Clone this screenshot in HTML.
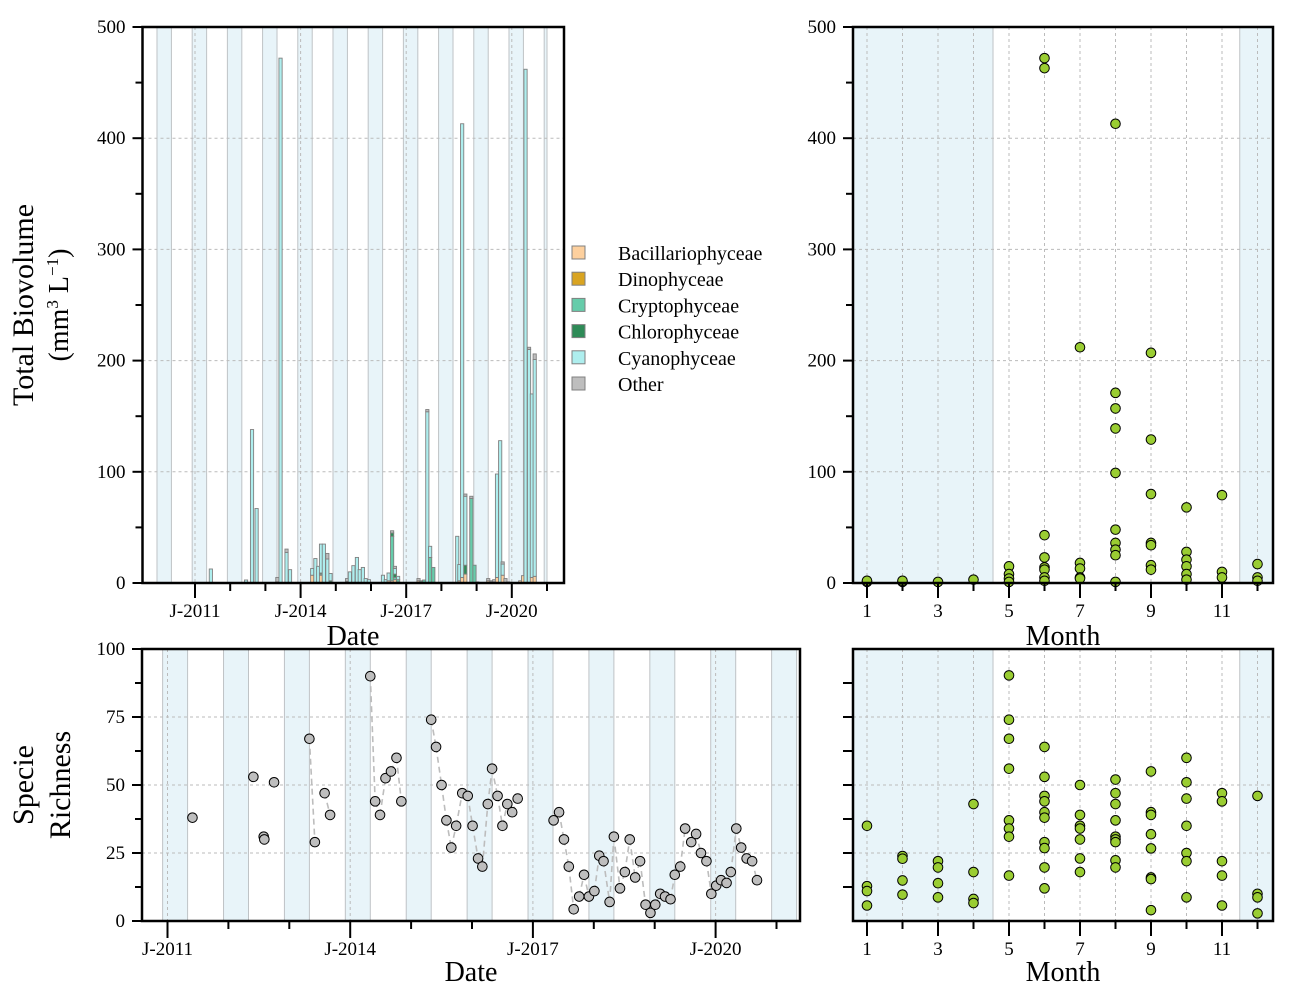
<!DOCTYPE html>
<html><head><meta charset="utf-8"><style>
html,body{margin:0;padding:0;background:#fff;}
svg{display:block;font-family:"Liberation Serif",serif;}
</style></head><body>
<svg id="chart" width="1300" height="1000" viewBox="0 0 1300 1000">
<g id="tl"></g>
<g id="tr"></g>
<g id="bl"></g>
<g id="br"></g>
<g id="legend"></g>
</svg>
<script>
const barDates=[2011.45,2012.45,2012.62,2012.75,2013.34,2013.43,2013.60,2013.70,2014.33,2014.42,2014.50,2014.58,2014.66,2014.76,2014.85,2015.32,2015.40,2015.50,2015.60,2015.68,2015.77,2015.85,2015.94,2016.10,2016.18,2016.26,2016.34,2016.42,2016.50,2016.60,2016.68,2016.77,2017.35,2017.43,2017.51,2017.60,2017.68,2017.77,2018.20,2018.28,2018.45,2018.51,2018.59,2018.68,2018.85,2018.94,2019.02,2019.33,2019.42,2019.50,2019.58,2019.67,2019.74,2019.82,2019.90,2020.24,2020.32,2020.39,2020.49,2020.57,2020.65];
const bacillario=[0,0,0,0,1,0,0,0,7,0,0,7,0,0,0,0,0,0,0,0,0,0,0,0,0,0,0,0,2,2,3,1,2,1,0,0,0,0,0,0,0,2,5,8,0,0,0,2,1,1,5,0,7,0,0,2,6.6,0,0,5,6];
const dinophy=[0,0,0,0,0,0,0,0,0,0,0,0,0,0,0,0,0,0,0,0,0,0,0,0,0,0,0,0,0,0,0,0,0,0,0,0,0,0,0,0,0,0,0,0,0,0,0,0,0,0,0,0,0,0,0,0,0,0,0,0,0];
const cryptophy=[0,0,0,0,0,0,0,0,0,0,0,1,0,0,0,0,0,0,0,0,0,0,0,0,0,0,0,0,0,40,2,2,0,1,2.7,0,23,14,0,0,0,0,0,0,76,16,0,0,0,0,0,0,0,0,0,0,0,0,0,0,0];
const chlorophy=[0,0,0,0,0,0,0,0,0,0,0,1,0,0,2,0,0,0,0,0,0,0,0,0,0,0,0,0,0,3,3,0,0,0,0,0,0,0,0,0,0,0,0,8,0,0,0,0,0,0,0,0,0,0,0,0,0,0,0,0,0];
const cyanophy=[12.6,2.7,138,67,0,472,27.5,12,6,22,15,26,35,21.6,6.6,1.5,10,15.6,23,12,14,4,3,0.5,0.5,0.5,7,3,7,0,5,3,0,0,0,154,10,0,0.5,0.5,42,14.6,408,62,0,0,1,0,0,0,93,128,10,0,1,0,0,462,210,165,195];
const otherCls=[0,0,0,0,4,0,3,0,0,0,0,0,0,5,0,2.5,0,0,0,0,0,0,0,0,0,0,0,0,0,2,2,0,2,0,0,2,0,0,0,0,0,0,0,2,2,0,0,2,1,2,0,0,2,4,0,0,0,0,2,0,5];
const classNames=["Bacillariophyceae","Dinophyceae","Cryptophyceae","Chlorophyceae","Cyanophyceae","Other"];
const classColors=["#fdd09e","#d9a421","#66ccaa","#2e8b57","#aeeeee","#bebebe"];

const bvMonth=[1,1,2,2,3,4,5,5,5,5,6,6,6,6,6,6,6,6,7,7,7,7,7,8,8,8,8,8,8,8,8,8,8,9,9,9,9,9,9,9,10,10,10,10,10,10,11,11,11,12,12,12];
const bvValue=[1,2,1,2,1,3,15,8,4,1,472,463,43,23,14,12,5,2,212,18,13,5,4,413,171,157,139,99,48,36,30,25,1,207,129,80,36,34,16,12,68,28,21,15,8,3,79,10,5,17,5,2];

const rDates=[2011.41,2012.41,2012.58,2012.59,2012.75,2013.33,2013.42,2013.58,2013.67,2014.33,2014.41,2014.49,2014.58,2014.67,2014.76,2014.84,2015.33,2015.41,2015.5,2015.58,2015.66,2015.74,2015.84,2015.93,2016.01,2016.1,2016.17,2016.26,2016.33,2016.42,2016.5,2016.58,2016.66,2016.75,2017.34,2017.43,2017.51,2017.59,2017.67,2017.76,2017.84,2017.92,2018.01,2018.09,2018.16,2018.26,2018.33,2018.43,2018.51,2018.59,2018.68,2018.76,2018.85,2018.93,2019.01,2019.09,2019.17,2019.26,2019.33,2019.42,2019.5,2019.6,2019.68,2019.76,2019.85,2019.93,2020.01,2020.09,2020.18,2020.25,2020.34,2020.42,2020.51,2020.6,2020.68];
const rValues=[38,53,31,30,51,67,29,47,39,90,44,39,52.5,55,60,44,74,64,50,37,27,35,47,46,35,23,20,43,56,46,35,43,40,45,37,40,30,20,4.3,9,17,9,11,24,22,7,31,12,18,30,16,22,6,3,6,10,9,8,17,20,34,29,32,25,22,10,13,15,14,18,34,27,23,22,15];

const rMonth=[1,1,1,1,2,2,2,2,3,3,3,3,4,4,4,4,5,5,5,5,5,5,5,5,6,6,6,6,6,6,6,6,6,6,7,7,7,7,7,7,7,8,8,8,8,8,8,8,8,8,9,9,9,9,9,9,9,9,10,10,10,10,10,10,10,11,11,11,11,11,12,12,12,12];
const rMonthVal=[35,12.8,11,5.7,23.9,22.9,14.9,9.7,22,19.7,13.9,8.7,43,18,8.1,6.6,90.3,74,67,56,37,34,31,16.7,64,53,46,44,40,38,29,26.8,19.7,12,50,39,35,34,30,23,18,52,47,43,37,31,30,29,22.3,19.7,55,40,39,31.9,26.7,16,15.4,4,60,51,45,35,25,22,8.7,47,44,22,16.7,5.7,46,10,8.7,2.8];

const yearTicks=[2011,2012,2013,2014,2015,2016,2017,2018,2019,2020,2021];
const majorYears=[2011,2014,2017,2020];
const bvTicks=[0,100,200,300,400,500];
const rTicks=[0,25,50,75,100];
const monthTicks=[1,2,3,4,5,6,7,8,9,10,11,12];

const NS="http://www.w3.org/2000/svg";
function el(parent,tag,attrs,text){const e=document.createElementNS(NS,tag);for(const k in attrs)e.setAttribute(k,attrs[k]);if(text!==undefined)e.textContent=text;parent.appendChild(e);return e;}

// axis functions
const xTL=t=>195+(t-2011)*35.2;
const yBV=v=>583-v*1.112;
const xBL=t=>167.5+(t-2011)*60.9;
const yR=v=>921-v*2.72;
const xM=m=>867+(m-1)*35.5;

const TL={x0:142.5,x1:564,y0:27,y1:583};
const BL={x0:142,x1:800,y0:649,y1:921};
const TR={x0:853,x1:1273,y0:27,y1:583};
const BR={x0:853,x1:1273,y0:649,y1:921};

function clipRect(g,id,b){const cp=el(g,'clipPath',{id:id});el(cp,'rect',{x:b.x0,y:b.y0,width:b.x1-b.x0,height:b.y1-b.y0});}

function timeBands(g,b,xf,endClip){
  for(let y=2010;y<=2021;y++){
    let s=xf(y-0.08),e=xf(y+0.33);
    if(endClip!==undefined)e=Math.min(e,endClip);
    s=Math.max(s,b.x0);e=Math.min(e,b.x1);
    if(e<=s)continue;
    const r=el(g,'rect',{x:s,y:b.y0,width:e-s,height:b.y1-b.y0,fill:'#e8f4f9',stroke:'#bfc3c6','stroke-width':1});
    
    
  }
}
function hgrid(g,b,vals,yf){vals.forEach(v=>{const y=yf(v);if(y<=b.y0+1||y>=b.y1-1)return;el(g,'line',{x1:b.x0,x2:b.x1,y1:y,y2:y,stroke:'#bbb','stroke-dasharray':'3,3','stroke-width':1});});}
function vgrid(g,b,vals,xf){vals.forEach(v=>{const x=xf(v);el(g,'line',{x1:x,x2:x,y1:b.y0,y2:b.y1,stroke:'#bbb','stroke-dasharray':'3,3','stroke-width':1});});}
function frame(g,b){const r=el(g,'rect',{x:b.x0,y:b.y0,width:b.x1-b.x0,height:b.y1-b.y0,fill:'none',stroke:'#000','stroke-width':2.5});}
function yAxis(g,b,major,minor,yf,labels){
  major.forEach(v=>{const y=yf(v);el(g,'line',{x1:b.x0-10,x2:b.x0,y1:y,y2:y,stroke:'#000','stroke-width':2});
    if(labels){const t=el(g,'text',{x:b.x0-17,y:y+6,'text-anchor':'end','font-size':19},String(v));}});
  minor.forEach(v=>{const y=yf(v);el(g,'line',{x1:b.x0-7,x2:b.x0,y1:y,y2:y,stroke:'#000','stroke-width':2});});
}
function xTimeAxis(g,b,xf,ly,long){
  yearTicks.forEach(yr=>{const x=xf(yr);if(x<b.x0||x>b.x1)return;const maj=majorYears.includes(yr);
    el(g,'line',{x1:x,x2:x,y1:b.y1,y2:b.y1+(maj?long:8),stroke:'#000','stroke-width':2});
    if(maj){const t=el(g,'text',{x:x,y:ly,'text-anchor':'middle','font-size':19},'J-'+yr);}});
}
function xMonthAxis(g,b,ly){
  monthTicks.forEach(m=>{const x=xM(m);const odd=m%2===1;
    el(g,'line',{x1:x,x2:x,y1:b.y1,y2:b.y1+(odd?15:8),stroke:'#000','stroke-width':2});
    if(odd){const t=el(g,'text',{x:x,y:ly,'text-anchor':'middle','font-size':19},String(m));}});
}
function monthBands(g,b){
  [[b.x0,xM(4.55)],[xM(11.5),b.x1]].forEach(p=>{const r=el(g,'rect',{x:p[0],y:b.y0,width:p[1]-p[0],height:b.y1-b.y0,fill:'#e8f4f9',stroke:'#bfc3c6','stroke-width':1});
    });
}
function title(g,x,y,txt,size,rot,name){const a={x:x,y:y,'text-anchor':'middle','font-size':size};if(rot)a.transform='rotate(-90 '+x+' '+y+')';const t=el(g,'text',a,txt);return t;}

// ---- Top-left
(function(){
  const g=document.getElementById('tl');
  clipRect(g,'ctl',TL);
  const inner=el(g,'g',{'clip-path':'url(#ctl)'});
  timeBands(inner,TL,xTL,xTL(2021.0));
  hgrid(inner,TL,[100,200,300,400],yBV);
  vgrid(inner,TL,majorYears,xTL);
  const series=[bacillario,dinophy,cryptophy,chlorophy,cyanophy,otherCls];
  barDates.forEach((d,i)=>{let base=0;const x=xTL(d)-1.6;
    series.forEach((s,k)=>{const v=s[i];if(v<=0)return;
      const r=el(inner,'rect',{x:x,y:yBV(base+v),width:3.2,height:Math.max(0.6,yBV(base)-yBV(base+v)),fill:classColors[k],stroke:'#808080','stroke-width':0.9});
      
      
      base+=v;});
  });
  frame(g,TL);
  yAxis(g,TL,bvTicks,[50,150,250,350,450],yBV,true);
  xTimeAxis(g,TL,xTL,617,15);
  title(g,353,645,'Date',28,false,'x-axis-title');
  title(g,33,305,'Total Biovolume',30,true,'y-axis-title');
  const t=title(g,68,305,'',28,true,'y-axis-unit');
  t.innerHTML='(mm<tspan font-size="17" dy="-10">3</tspan><tspan dy="10"> L</tspan><tspan font-size="17" dy="-10">−1</tspan><tspan dy="10">)</tspan>';
})();

// legend
(function(){
  const g=document.getElementById('legend');
  classNames.forEach((n,i)=>{const y=253+i*26.2;
    const r=el(g,'rect',{x:572,y:y-7,width:13,height:13,fill:classColors[i],stroke:'#808080','stroke-width':1});
    
    const t=el(g,'text',{x:618,y:y+7,'font-size':20},n);
    });
})();

// ---- Top-right
(function(){
  const g=document.getElementById('tr');
  monthBands(g,TR);
  hgrid(g,TR,[100,200,300,400],yBV);
  vgrid(g,TR,monthTicks,xM);
  bvMonth.forEach((m,i)=>{const c=el(g,'circle',{cx:xM(m),cy:yBV(bvValue[i]),r:4.8,fill:'#9acd32',stroke:'#000','stroke-width':1});
    });
  frame(g,TR);
  yAxis(g,TR,bvTicks,[50,150,250,350,450],yBV,true);
  xMonthAxis(g,TR,617);
  title(g,1063,645,'Month',28,false,'x-axis-title');
})();

// ---- Bottom-left
(function(){
  const g=document.getElementById('bl');
  clipRect(g,'cbl',BL);
  const inner=el(g,'g',{'clip-path':'url(#cbl)'});
  timeBands(inner,BL,xBL);
  hgrid(inner,BL,[25,50,75],yR);
  vgrid(inner,BL,majorYears,xBL);
  for(let i=1;i<rDates.length;i++){
    if(rDates[i]-rDates[i-1]>0.12)continue;
    const l=el(inner,'line',{x1:xBL(rDates[i-1]),y1:yR(rValues[i-1]),x2:xBL(rDates[i]),y2:yR(rValues[i]),stroke:'#bdbdbd','stroke-width':1.6,'stroke-dasharray':'6,4'});
    
  }
  rDates.forEach((d,i)=>{const c=el(inner,'circle',{cx:xBL(d),cy:yR(rValues[i]),r:4.8,fill:'#bebebe',stroke:'#000','stroke-width':1});
    });
  frame(g,BL);
  yAxis(g,BL,rTicks,[12.5,37.5,62.5,87.5],yR,true);
  xTimeAxis(g,BL,xBL,955,17);
  title(g,471,981,'Date',28,false,'x-axis-title');
  title(g,33,785,'Specie',30,true,'y-axis-title');
  title(g,70,785,'Richness',30,true,'y-axis-title-line2');
})();

// ---- Bottom-right
(function(){
  const g=document.getElementById('br');
  monthBands(g,BR);
  hgrid(g,BR,[25,50,75],yR);
  vgrid(g,BR,monthTicks,xM);
  rMonth.forEach((m,i)=>{const c=el(g,'circle',{cx:xM(m),cy:yR(rMonthVal[i]),r:4.8,fill:'#9acd32',stroke:'#000','stroke-width':1});
    });
  frame(g,BR);
  yAxis(g,BR,[12.5,25,37.5,50,62.5,75,87.5],[],yR,false);
  xMonthAxis(g,BR,955);
  title(g,1063,981,'Month',28,false,'x-axis-title');
})();
</script>
</body></html>
